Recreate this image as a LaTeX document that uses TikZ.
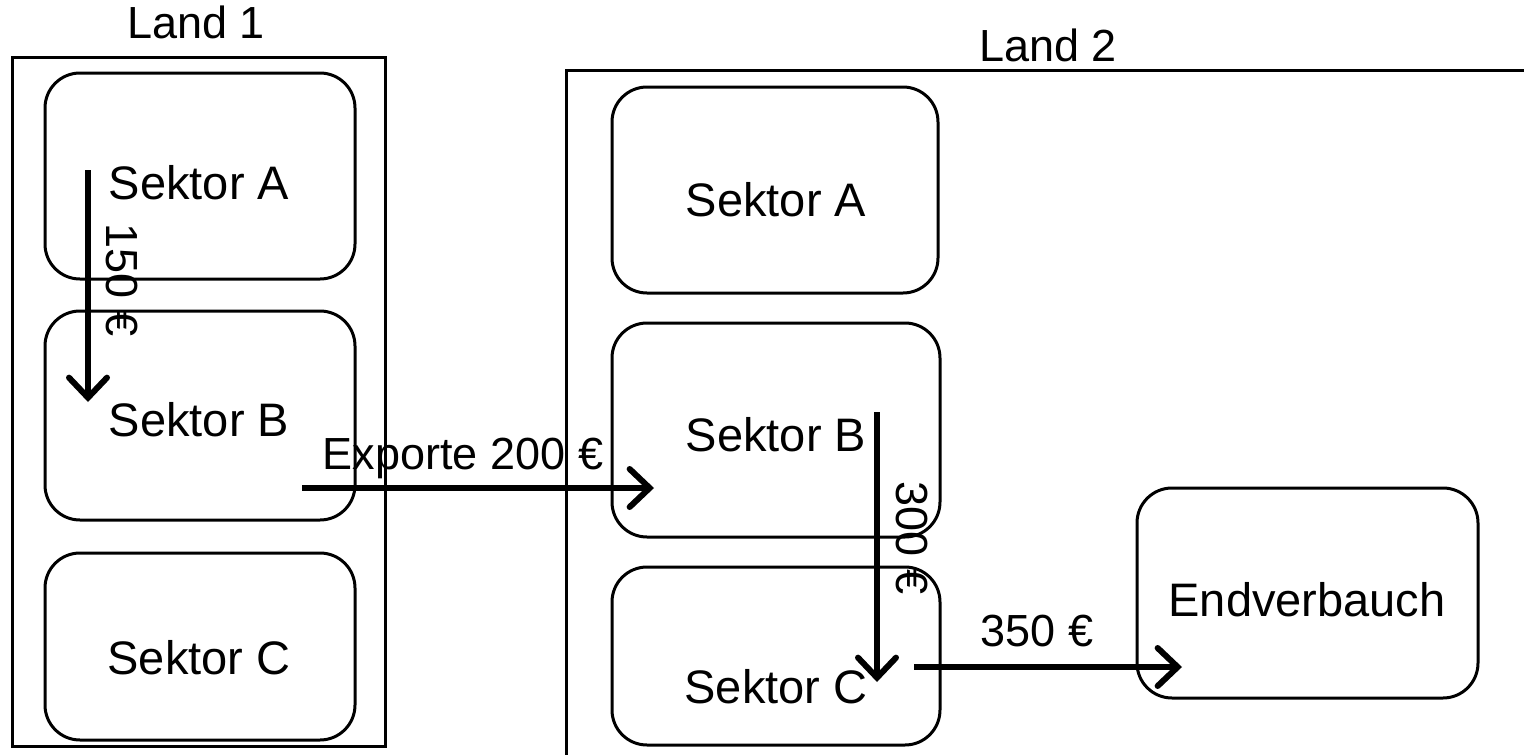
\documentclass[tikz,border=0pt]{standalone}
\usepackage{fontspec}
\setmainfont{Liberation Sans}
\usetikzlibrary{arrows.meta}
\begin{document}
\begin{tikzpicture}[x=1pt,y=-1pt,
  sector/.style={draw,line width=3pt,rounded corners=35pt,inner sep=0pt},
  land/.style={draw,line width=3pt,inner sep=0pt},
  lbl/.style={font=\fontsize{45}{54}\selectfont,inner sep=0pt},
  stext/.style={font=\fontsize{47}{56}\selectfont,inner sep=0pt},
  flow/.style={line width=6pt,-{Straight Barb[length=20pt,width=38pt,line cap=round,line width=6pt]}}
]
\useasboundingbox (0,0) rectangle (1524,755);
% Land 1
\node[land,minimum width=373pt,minimum height=689pt] (L1) at (198.5,401.5) {};
\node[lbl] (L1t) at (196,22) {Land 1};
\node[sector,minimum width=310pt,minimum height=206pt] (A1) at (200,176) {};
\node[stext] (A1t) at (199,183) {Sektor A};
\node[sector,minimum width=310pt,minimum height=209pt] (B1) at (200,415.5) {};
\node[stext] (B1t) at (199,420) {Sektor B};
\node[sector,minimum width=310pt,minimum height=187pt] (C1) at (200,646.5) {};
\node[stext] (C1t) at (199,658) {Sektor C};
% Land 2
\coordinate (L2bl) at (566,760);
\coordinate (L2tr) at (1530,70);
\draw[line width=3pt] (L2bl) |- (L2tr);
\node[lbl] (L2t) at (1048,45) {Land 2};
\node[sector,minimum width=326pt,minimum height=206pt] (A2) at (775,190) {};
\node[stext] (A2t) at (776,200) {Sektor A};
\node[sector,minimum width=328pt,minimum height=214pt] (B2) at (776,430) {};
\node[stext] (B2t) at (776,435) {Sektor B};
\node[sector,minimum width=328pt,minimum height=178pt] (C2) at (776,656) {};
\node[stext] (C2t) at (776,687) {Sektor C};
\node[sector,minimum width=341pt,minimum height=210pt] (E) at (1307.5,593) {};
\node[stext] (Et) at (1307,600) {Endverbauch};
% flows
\coordinate (f1s) at (88,170);
\coordinate (f1e) at (88,402);
\draw[flow] (f1s) -- (f1e);
\node[lbl,rotate=-90] (f1l) at (122,280) {150 €};
\coordinate (f2s) at (302,488);
\coordinate (f2e) at (654,488);
\draw[flow] (f2s) -- (f2e);
\node[lbl] (f2l) at (463,458) {Exporte 200 €};
\coordinate (f3s) at (877,412);
\coordinate (f3e) at (877,682);
\draw[flow] (f3s) -- (f3e);
\node[lbl,rotate=-90] (f3l) at (912,538) {300 €};
\coordinate (f4s) at (914,667);
\coordinate (f4e) at (1182,667);
\draw[flow] (f4s) -- (f4e);
\node[lbl] (f4l) at (1037,631) {350 €};
\end{tikzpicture}
\end{document}
